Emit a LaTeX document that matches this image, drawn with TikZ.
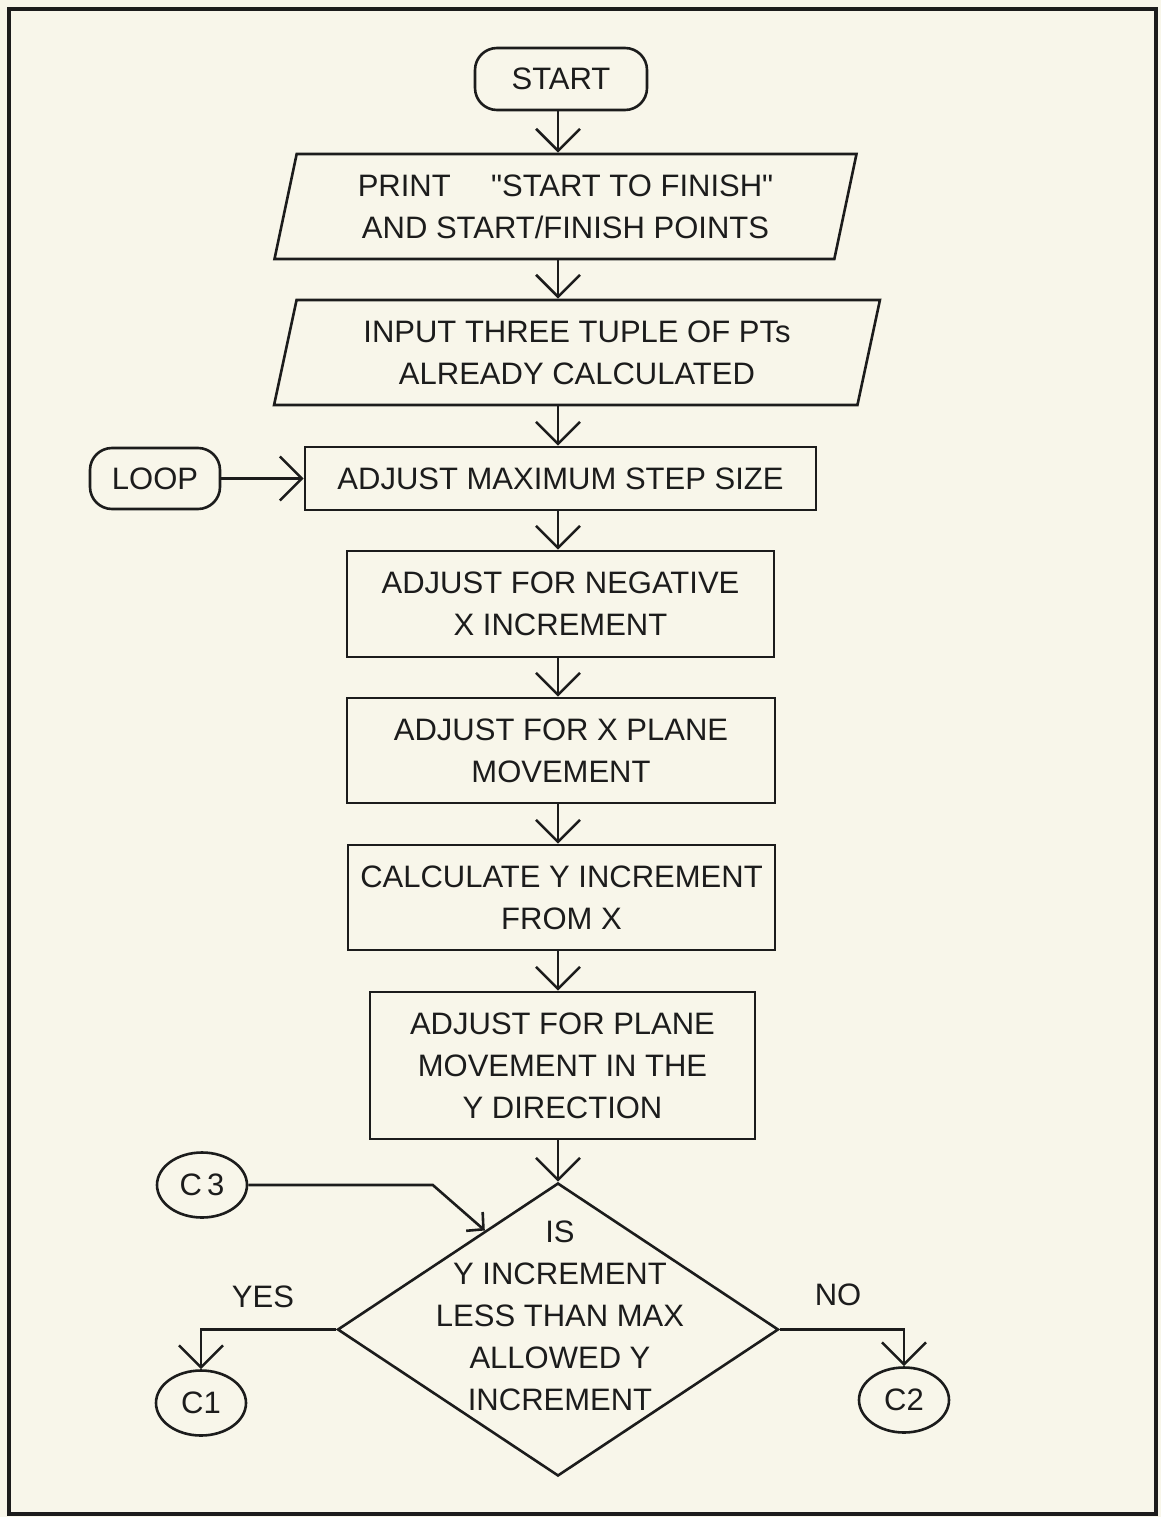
\documentclass[tikz,border=0pt]{standalone}
\usepackage{fontspec}
\setmainfont{Liberation Sans}
\usetikzlibrary{arrows.meta,shapes.geometric,calc}
\definecolor{paper}{RGB}{248,246,234}
\definecolor{ink}{RGB}{28,28,28}
\tikzstyle{terminal}=[draw,rectangle,rounded corners=22pt,inner sep=0pt]
\tikzstyle{io}=[draw,trapezium,trapezium left angle=75,trapezium right angle=105,trapezium stretches=true,minimum height=105pt,inner sep=0pt,align=center]
\tikzstyle{process}=[draw,rectangle,inner sep=0pt,align=center]
\tikzstyle{decision}=[draw,diamond,minimum width=441pt,minimum height=293pt,inner sep=0pt]
\tikzstyle{connector}=[draw,ellipse,minimum width=90pt,minimum height=65pt,inner sep=0pt]
\tikzstyle{flow} = [draw,-{Straight Barb[length=22pt,width=44pt]}]
\tikzstyle{smallflow} = [draw,-{Straight Barb[length=12pt,width=25pt]}]

\begin{document}
\begin{tikzpicture}[x=1pt,y=-1pt,line width=2.6pt,ink,font=\fontsize{31}{42}\selectfont]
	% sheet and frame
	\fill[paper] (0,0) rectangle (1161,1517);
	\draw[line width=4pt] (9,9) rectangle (1156,1514);
	
	\node[terminal,minimum width=172pt,minimum height=62pt] (start) at (561,79) {START};
	\node[io,minimum width=585pt] (print) at (565.5,206.5) {PRINT\hspace{1.3em}\textquotedbl START TO FINISH\textquotedbl\\AND START/FINISH POINTS};
	\node[io,minimum width=606pt] (input) at (577,352.5) {INPUT THREE TUPLE OF PTs\\ALREADY CALCULATED};
	\node[process,minimum width=511pt,minimum height=63pt] (maxstep) at (560.5,478.5) {ADJUST MAXIMUM STEP SIZE};
	\node[terminal,minimum width=130pt,minimum height=61pt] (loop) at (155,478.5) {LOOP};
	\node[process,minimum width=427pt,minimum height=106pt] (negx) at (560.5,604) {ADJUST FOR NEGATIVE\\X INCREMENT};
	\node[process,minimum width=428pt,minimum height=105pt] (xplane) at (561,750.5) {ADJUST FOR X PLANE\\MOVEMENT};
	\node[process,minimum width=427pt,minimum height=105pt] (yinc) at (561.5,897.5) {CALCULATE Y INCREMENT\\FROM X};
	\node[process,minimum width=385pt,minimum height=147pt] (ydir) at (562.5,1065.5) {ADJUST FOR PLANE\\MOVEMENT IN THE\\Y DIRECTION};
	
	\node[decision] (dec) at (558,1329.5) {};
	\node[align=center] (dectext) at (560,1316) {IS\\Y INCREMENT\\LESS THAN MAX\\ALLOWED Y\\INCREMENT};
	\node (yes) at (263,1297) {YES};
	\node (no) at (838,1295) {NO};
	
	\foreach \pos/\name in {{(202,1185)/c3},{(201,1403)/c1},{(904,1400)/c2}}
	\node[connector] (\name) at \pos {};
	\node at (c3) {C\,3};
	\node at (c1) {C1};
	\node at (c2) {C2};
	
	% main column
	\foreach \a/\b in {start/print,print/input,input/maxstep,maxstep/negx,negx/xplane,xplane/yinc,yinc/ydir,ydir/dec}
	\draw[flow] (\a.south -| dec.north) -- (\b.north -| dec.north);
	
	\draw[flow] (loop) -- (maxstep);
	
	\path ($(dec.north)!0.33!(dec.west)$) coordinate (hit);
	\path (hit) ++(-52,-47) coordinate (bend);
	\draw[smallflow] (c3.east) -- (c3.east -| bend) -- (hit);
	
	\draw[flow] (dec.west) -| (c1);
	\draw[flow] (dec.east) -| (c2);
\end{tikzpicture}
\end{document}
